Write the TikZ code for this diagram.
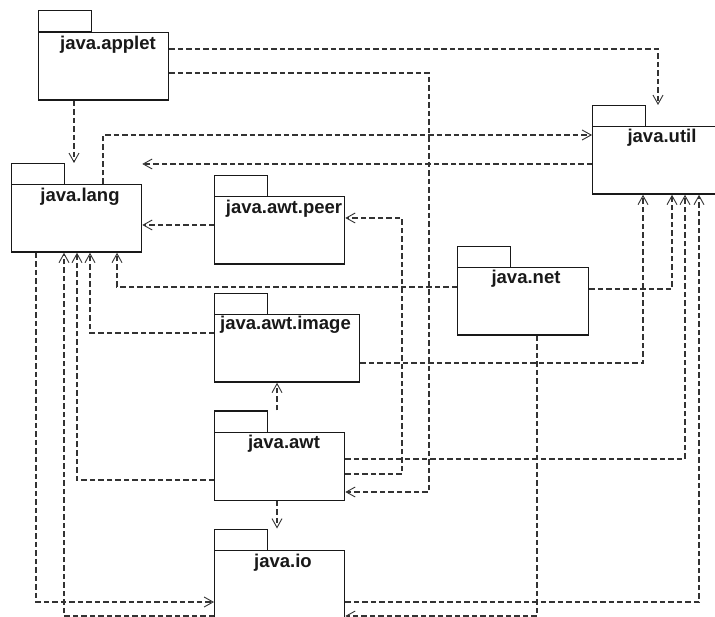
\documentclass[tikz,border=0pt]{standalone}
\usepackage{fontspec}
\setmainfont{Liberation Sans}
\usetikzlibrary{arrows.meta}
\tikzset{
  pkgbody/.style={draw=black!90, line width=1.3pt, fill=white, anchor=north west, inner sep=0pt, minimum width=130pt, minimum height=67.5pt},
  pkgtab/.style={draw=black!90, line width=1.3pt, fill=white, anchor=north west, inner sep=0pt, minimum width=53pt, minimum height=21.5pt},
  pkglabel/.style={anchor=base, inner sep=0pt, font=\bfseries\fontsize{18.5}{20}\selectfont, text=black!90},
  dep/.style={draw=black!80, line width=1.1pt, dash pattern=on 5.5pt off 3pt, -{Straight Barb[length=9pt,width=10pt,line width=0.9pt]}},
  depline/.style={draw=black!80, line width=1.1pt, dash pattern=on 5.5pt off 3pt}
}
\begin{document}
\begin{tikzpicture}[x=1pt,y=-1pt]
\clip (0,0) rectangle (715,617);
\fill[white] (0,0) rectangle (715,617);

% packages
\node[pkgtab] (applett) at (38,10) {};
\node[pkgbody] (applet) at (38,32) {};
\node[pkglabel] (appletl) at (108,50) {java.applet};

\node[pkgtab] (langt) at (11,163) {};
\node[pkgbody] (lang) at (11,184) {};
\node[pkglabel] (langl) at (80,202) {java.lang};

\node[pkgtab] (peert) at (214,175) {};
\node[pkgbody] (peer) at (214,196) {};
\node[pkglabel] (peerl) at (284,214) {java.awt.peer};

\node[pkgtab] (utilt) at (592,105) {};
\node[pkgbody] (util) at (592,126) {};
\node[pkglabel] (utill) at (662,143) {java.util};

\node[pkgtab] (nett) at (457,246) {};
\node[pkgbody, minimum width=131pt] (net) at (457,267) {};
\node[pkglabel] (netl) at (526,284) {java.net};

\node[pkgtab] (imaget) at (214,293) {};
\node[pkgbody, minimum width=145pt] (image) at (214,314) {};
\node[pkglabel] (imagel) at (285.5,330) {java.awt.image};

\node[pkgtab] (awtt) at (214,410.5) {};
\node[pkgbody] (awt) at (214,432) {};
\node[pkglabel] (awtl) at (284,449) {java.awt};

\node[pkgtab] (iot) at (214,528.5) {};
\node[pkgbody, minimum height=69pt] (io) at (214,550) {};
\node[pkglabel] (iol) at (283,567) {java.io};

% dependencies
\draw[dep] (applet.east |- 0,49) -| (658,0 |- utilt.north);
\draw[dep] (applet.south -| 74,0) -- (74,0 |- langt.north);
\draw[dep] (applet.east |- 0,73) -- (429,73) -- (429,492) -- (awt.east |- 0,492);
\draw[dep] (lang.north -| 103,0) |- (util.west |- 0,135);
\draw[dep] (util.west |- 0,164) -- (lang.east |- 0,164);
\draw[dep] (peer.west |- 0,225) -- (lang.east |- 0,225);
\draw[dep] (awt.east |- 0,474) -- (402,474) -- (402,218) -- (peer.east |- 0,218);
\draw[dep] (awt.east |- 0,459) -| (685,0 |- util.south);
\draw[dep] (image.east |- 0,363) -| (643,0 |- util.south);
\draw[dep] (net.east |- 0,289) -| (672,0 |- util.south);
\draw[dep] (io.east |- 0,602) -| (699,0 |- util.south);
\draw[dep] (net.west |- 0,287) -| (117,0 |- lang.south);
\draw[dep] (net.south -| 537,0) |- (io.east |- 0,616);
\draw[dep] (image.west |- 0,333) -| (90,0 |- lang.south);
\draw[dep] (awt.west |- 0,480) -| (77,0 |- lang.south);
\draw[dep] (io.west |- 0,616) -| (64,0 |- lang.south);
\draw[dep] (lang.south -| 36,0) |- (io.west |- 0,602);
\draw[dep] (awtt.north -| 277,0) -- (277,0 |- image.south);
\draw[dep] (awt.south -| 277,0) -- (277,0 |- iot.north);
\end{tikzpicture}
\end{document}
